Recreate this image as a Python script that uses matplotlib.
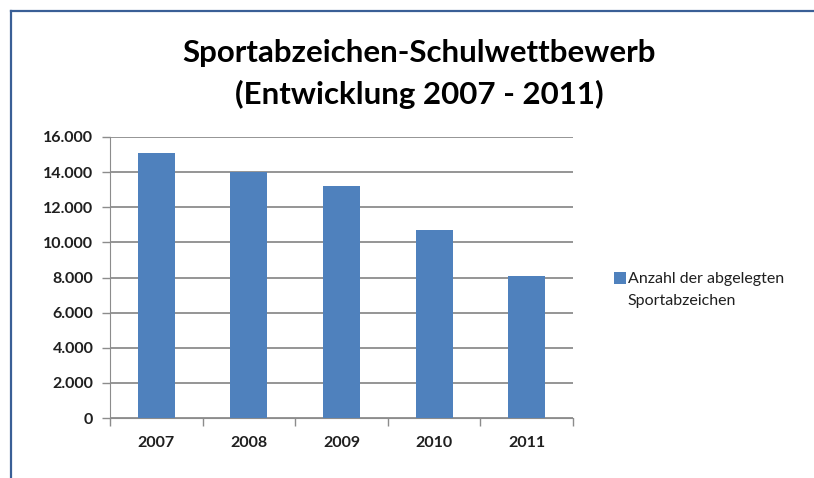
import matplotlib
matplotlib.use("Agg")
import matplotlib.pyplot as plt
from matplotlib.lines import Line2D
from matplotlib.patches import Rectangle
from matplotlib.legend_handler import HandlerPatch
from matplotlib.ticker import FuncFormatter
import numpy as np

# data
years = ["2007", "2008", "2009", "2010", "2011"]
badges = [15100, 14000, 13200, 10700, 8100]
series_label = "Anzahl der abgelegten\nSportabzeichen"
title = "Sportabzeichen-Schulwettbewerb\n(Entwicklung 2007 - 2011)"

BAR = "#4F81BD"
GRID = "#8C8C8C"
FRAME = "#3A5F96"
TXT = "#1F1F1F"

plt.rcParams["font.family"] = ["Lato", "DejaVu Sans"]

fig = plt.figure(figsize=(8.14, 4.78), dpi=100)
ax = fig.add_axes([110 / 814, 60 / 478, 463 / 814, 281 / 478])

x = np.arange(len(years))
bars = ax.bar(x, badges, width=0.4, color=BAR, zorder=3, label=series_label)

ax.set_xlim(-0.5, len(years) - 0.5)
ax.set_ylim(0, 16000)
ax.set_yticks(np.arange(0, 16001, 2000))
ax.yaxis.set_major_formatter(
    FuncFormatter(lambda v, p: f"{int(v):,}".replace(",", ".")))
ax.set_xticks(x)
ax.set_xticklabels(years)
ax.set_xticks(np.arange(-0.5, len(years), 1.0), minor=True)

ax.grid(True, axis="y", color=GRID, linewidth=1.3, zorder=0)
for side in ["top", "right"]:
    ax.spines[side].set_visible(False)
ax.spines["left"].set_color(GRID)
ax.spines["bottom"].set_color(GRID)

ax.tick_params(axis="y", length=6, width=1, color=GRID, pad=6,
               labelsize=11.5, labelcolor=TXT)
ax.tick_params(axis="x", which="major", length=0, pad=13,
               labelsize=11.5, labelcolor=TXT)
ax.tick_params(axis="x", which="minor", length=6, width=1, color=GRID)
for lab in ax.get_xticklabels() + ax.get_yticklabels():
    lab.set_fontweight("bold")

fig.text(419 / 814, 1 - 74 / 478, title, ha="center", va="center",
         fontsize=22.5, fontweight="bold", color="black", linespacing=1.54)


# legend square sits next to the first line of the two-line label
def top_square(legend, orig_handle, xdescent, ydescent, width, height, fontsize):
    return Rectangle((-xdescent, -ydescent + 0.75 * fontsize), width, height)


leg = fig.legend(handles=[bars[0]], labels=[series_label],
                 loc="center left", bbox_to_anchor=(608 / 814, 1 - 290 / 478),
                 frameon=False, fontsize=11.5, handlelength=0.7,
                 handleheight=0.7, handletextpad=0.15, borderaxespad=0,
                 handler_map={Rectangle: HandlerPatch(patch_func=top_square)})
for t in leg.get_texts():
    t.set_color(TXT)
    t.set_linespacing(1.74)

# outer chart frame (top and left edge visible)
fig.add_artist(Line2D([10.5 / 814, 10.5 / 814], [0, 1 - 11 / 478],
                      color=FRAME, linewidth=1.6))
fig.add_artist(Line2D([10.5 / 814, 1], [1 - 11 / 478, 1 - 11 / 478],
                      color=FRAME, linewidth=1.6))

fig.savefig("out.png", dpi=100, facecolor="white")
